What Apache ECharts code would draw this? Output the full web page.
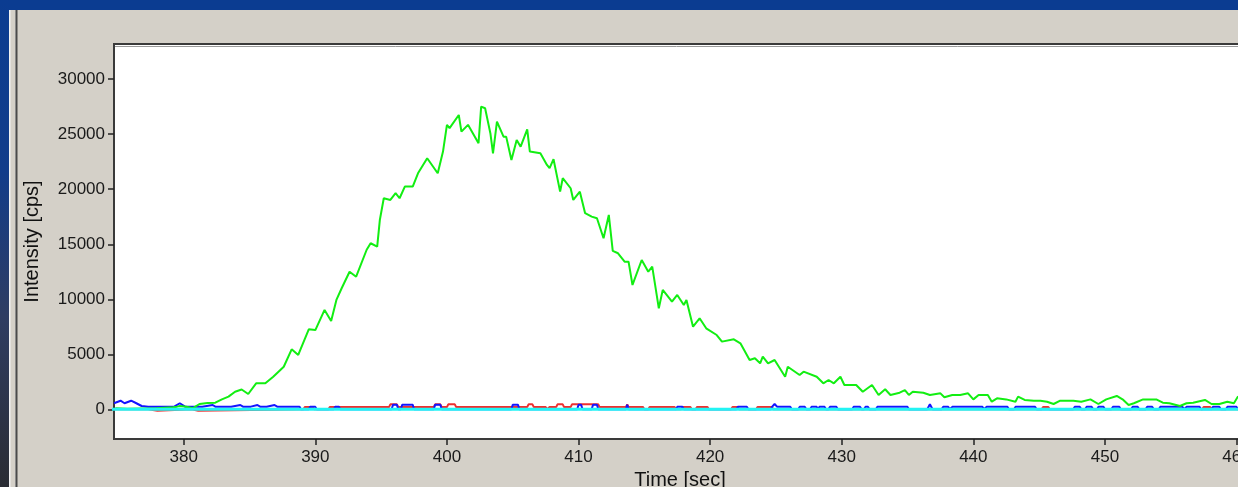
<!DOCTYPE html>
<html><head><meta charset="utf-8">
<script src="https://cdn.jsdelivr.net/npm/echarts@6/dist/echarts.min.js"></script>
<style>html,body{margin:0;padding:0;background:#D4D0C8;overflow:hidden}#chart{width:1238px;height:487px;}</style>
</head><body><div id="chart"></div>
<script>
// ---- data ----
const xTicks = [380, 390, 400, 410, 420, 430, 440, 450, 460];
const yTicks = [0, 5000, 10000, 15000, 20000, 25000, 30000];

const greenT = [374.8,375.7,377.9,379.2,379.5,379.7,380.2,380.7,381.2,381.8,
382.4,382.9,383.4,383.9,384.4,384.9,385.5,386.2,386.8,387.6,
388.2,388.7,389.5,390.0,390.7,391.2,391.6,392.0,392.6,393.1,
393.9,394.2,394.7,394.9,395.2,395.7,396.1,396.4,396.8,397.4,
397.8,398.5,399.3,399.7,400.0,400.2,400.9,401.1,401.6,402.4,
402.6,402.9,403.3,403.5,403.8,404.3,404.5,404.9,405.3,405.6,
406.1,406.3,407.1,407.6,407.8,408.1,408.6,408.8,409.4,409.6,
410.1,410.5,411.0,411.4,411.9,412.3,412.6,413.0,413.5,413.8,
414.1,414.8,415.3,415.6,416.1,416.4,417.1,417.5,418.0,418.2,
418.7,419.2,419.7,420.5,420.9,421.8,422.3,423.0,423.4,423.8,
424.0,424.4,424.9,425.7,425.9,426.8,427.1,428.1,428.6,429.0,
429.4,429.9,430.2,431.1,431.6,432.3,432.8,433.3,433.7,434.4,
434.8,435.1,435.4,436.2,436.7,437.5,437.8,438.4,439.0,439.6,
440.0,440.4,441.1,441.4,441.8,442.5,443.2,443.4,443.9,444.6,
445.1,445.6,446.1,446.6,447.6,448.2,448.9,449.5,450.1,450.9,
451.4,451.8,452.2,452.9,453.9,454.4,454.9,455.7,456.2,456.7,
457.6,458.1,458.7,459.3,459.8,460.1,460.6];
const greenV = [90,50,90,180,240,300,240,100,480,570,
600,900,1150,1600,1800,1390,2360,2360,2960,3870,
5450,4940,7270,7200,9030,8030,9940,11000,12500,12050,
14500,15090,14780,17200,19180,19030,19640,19180,20240,20240,
21450,22820,21450,23420,25850,25550,26750,25240,25850,24180,
27510,27360,25090,23270,26150,24780,24780,22660,24480,23870,
25450,23420,23270,22210,21910,22730,19780,21000,20090,19030,
19780,17820,17510,17360,15550,17660,14400,14180,13420,13420,
11300,13570,12510,12960,9180,10850,9780,10390,9480,9940,
7510,8270,7360,6750,6150,6360,6000,4480,4640,4180,
4780,4180,4480,2960,3870,3120,3420,2960,2360,2660,
2360,2960,2210,2210,1600,2210,1300,1820,1300,1510,
1750,1300,1600,1500,1300,1450,1090,1300,1300,1450,
900,1300,1300,690,1000,900,690,1150,850,780,
780,690,480,780,780,690,900,480,900,1210,
850,390,550,900,900,600,550,300,550,600,
850,480,480,690,550,1150,900];

const bluePoints = [[374.7,550],[375.2,780],[375.5,550],[376.0,780],[376.4,550],[376.8,300],[377.3,240],[378.6,240],[379.3,260],[379.7,550],[380.1,240],
[381.4,240],[381.5,390],[382.2,390],[382.4,240],[383.6,240],[383.7,390],[384.3,390],[384.5,240],[385.1,240],[385.2,390],[385.6,390],[385.8,240],
[386.3,240],[386.4,390],[386.9,390],[387.1,240],[388.8,240],[388.9,0],[389.5,0],[389.6,220],[390.0,220],[390.1,0],[391.4,0],[391.5,220],[391.8,220],[391.9,0],
[395.8,0],[395.9,420],[396.2,420],[396.3,0],[396.5,0],[396.6,420],[397.4,420],[397.5,0],[399.0,0],[399.1,420],[399.5,420],[399.6,0],
[404.9,0],[405.0,420],[405.4,420],[405.5,0],[409.9,0],[410.0,420],[410.2,420],[410.3,0],[411.0,0],[411.1,420],[411.4,420],[411.5,0],
[413.6,0],[413.7,420],[413.8,0],[417.4,0],[417.5,220],[417.9,220],[418.0,0],[422.0,0],[422.1,220],[422.8,220],[422.9,0],
[424.6,0],[424.7,220],[424.9,480],[425.1,220],[426.1,220],[426.2,0],[426.7,0],[426.8,220],[427.2,220],[427.3,0],[427.6,0],[427.7,220],[428.1,220],[428.2,0],
[428.3,220],[428.7,220],[428.8,0],[429.0,0],[429.1,220],[429.6,220],[429.7,0],[430.8,0],[430.9,220],[431.4,220],[431.5,0],[431.7,0],[431.8,220],[432.0,220],[432.1,0],
[432.6,0],[432.7,220],[435.0,220],[435.1,0],[436.5,0],[436.7,450],[436.9,0],[437.6,0],[437.7,220],[438.1,220],[438.2,0],[438.3,0],[438.4,220],[440.7,220],[440.8,0],
[440.9,0],[441.0,220],[442.6,220],[442.7,0],[443.1,0],[443.2,220],[444.7,220],[444.8,0],[447.6,0],[447.7,220],[448.1,220],[448.2,0],[448.5,0],[448.6,220],[449.0,220],[449.1,0],
[449.4,0],[449.5,220],[449.9,220],[450.0,0],[450.5,0],[450.6,220],[451.1,220],[451.2,0],[452.0,0],[452.1,220],[452.5,220],[452.6,0],[453.1,0],[453.2,220],[453.6,220],[453.7,0],
[454.1,0],[454.2,220],[455.9,220],[456.0,0],[456.1,0],[456.2,220],[457.2,220],[457.3,0],[458.1,0],[458.2,220],[458.7,220],[458.8,0],[459.2,0],[459.3,220],[460.0,220],[460.1,0],[461.0,0]];

const redPoints = [[374.5,0],[377.3,0],[377.4,-130],[378.0,-130],[378.1,0],[380.6,0],[380.7,-130],[381.1,-130],[381.2,0],
[389.1,0],[389.2,200],[389.8,200],[389.9,0],[391.0,0],[391.1,200],[395.6,200],[395.7,450],[396.2,450],[396.3,200],
[399.0,200],[399.1,450],[399.5,450],[399.6,200],[400.0,200],[400.1,450],[400.6,450],[400.7,200],[406.1,200],[406.2,450],[406.5,450],[406.6,200],
[407.5,200],[407.6,0],[407.7,0],[407.8,200],[408.3,200],[408.4,450],[408.8,450],[408.9,200],[409.4,200],[409.5,450],[411.5,450],[411.6,200],
[413.6,200],[413.7,450],[413.8,200],[414.9,200],[415.0,0],[415.3,0],[415.4,200],[417.3,200],[417.4,0],[417.8,0],[417.9,200],[418.5,200],[418.6,0],
[418.9,0],[419.0,200],[419.8,200],[419.9,0],[421.6,0],[421.7,200],[422.1,200],[422.2,0],[423.5,0],[423.6,200],[424.7,200],[424.8,0],
[445.2,0],[445.3,200],[445.7,200],[445.8,0],[457.4,0],[457.5,200],[458.0,200],[458.1,0],[461.0,0]];

const cyanT = [374.5, 461.0];
const cyanV = [0, 0];

// ---- chart ----
const chart = echarts.init(document.getElementById('chart'), null, {renderer: 'canvas'});
const FONT = '"Liberation Sans", Arial, sans-serif';

const option = {
  animation: false,
  backgroundColor: '#D4D0C8',
  graphic: [
    {type: 'rect', shape: {x: 0, y: 0, width: 1238, height: 10}, style: {fill: '#0B3C91'}, silent: true},
    {type: 'rect', shape: {x: 0, y: 0, width: 9, height: 487}, silent: true,
      style: {fill: new echarts.graphic.LinearGradient(0, 0, 0, 1, [
        {offset: 0, color: '#0B3C91'}, {offset: 0.35, color: '#123c8a'},
        {offset: 0.65, color: '#2f3d62'}, {offset: 1, color: '#2a2c33'}])}},
    {type: 'rect', shape: {x: 9, y: 10, width: 1.5, height: 477}, style: {fill: '#f2f2f2'}, silent: true},
    {type: 'rect', shape: {x: 15, y: 10, width: 1, height: 477}, style: {fill: '#8a8a8a'}, silent: true},
    {type: 'rect', shape: {x: 16, y: 10, width: 1.5, height: 477}, style: {fill: '#4a4a4a'}, silent: true},
    {type: 'line', shape: {x1: 115, y1: 46.5, x2: 1238, y2: 46.5}, style: {stroke: '#9a9a9a', lineWidth: 1}, silent: true, z: 100}
  ],
  grid: {left: 114, top: 44, right: -8, bottom: 48, show: true, backgroundColor: '#ffffff',
    borderColor: '#3a3a3a', borderWidth: 2, containLabel: false, outerBoundsMode: 'none'},
  xAxis: {
    type: 'value', min: 374.7, max: 460.72,
    name: 'Time [sec]', nameLocation: 'middle', nameGap: 31,
    nameTextStyle: {fontFamily: FONT, fontSize: 20, color: '#111'},
    axisLine: {show: false, onZero: false},
    axisTick: {show: true, length: 6, customValues: xTicks, lineStyle: {color: '#222', width: 1.5}},
    axisLabel: {customValues: xTicks, fontFamily: FONT, fontSize: 17, color: '#1a1a1a', margin: 10,
      formatter: v => String(v)},
    splitLine: {show: false}
  },
  yAxis: {
    type: 'value', min: -2700, max: 33200,
    name: 'Intensity [cps]', nameLocation: 'middle', nameGap: 72,
    nameTextStyle: {fontFamily: FONT, fontSize: 20, color: '#111'},
    axisLine: {show: false, onZero: false},
    axisTick: {show: true, length: 6, customValues: yTicks, lineStyle: {color: '#222', width: 1.5}},
    axisLabel: {customValues: yTicks, fontFamily: FONT, fontSize: 17, color: '#1a1a1a', margin: 9,
      formatter: v => String(v)},
    splitLine: {show: false}
  },
  series: [
    {name: 'red', type: 'line', data: redPoints, symbol: 'none', silent: true, z: 2,
      lineStyle: {color: '#EE3030', width: 2}},
    {name: 'blue', type: 'line', data: bluePoints, symbol: 'none', silent: true, z: 3,
      lineStyle: {color: '#1414FF', width: 2}},
    {name: 'green', type: 'line', data: greenT.map((t, i) => [t, greenV[i]]), symbol: 'none', silent: true, z: 4,
      lineStyle: {color: '#12EE12', width: 2}},
    {name: 'cyan', type: 'line', data: cyanT.map((t, i) => [t, cyanV[i]]), symbol: 'none', silent: true, z: 5,
      lineStyle: {color: '#22F4F4', width: 3}}
  ]
};
chart.setOption(option);
</script></body></html>
